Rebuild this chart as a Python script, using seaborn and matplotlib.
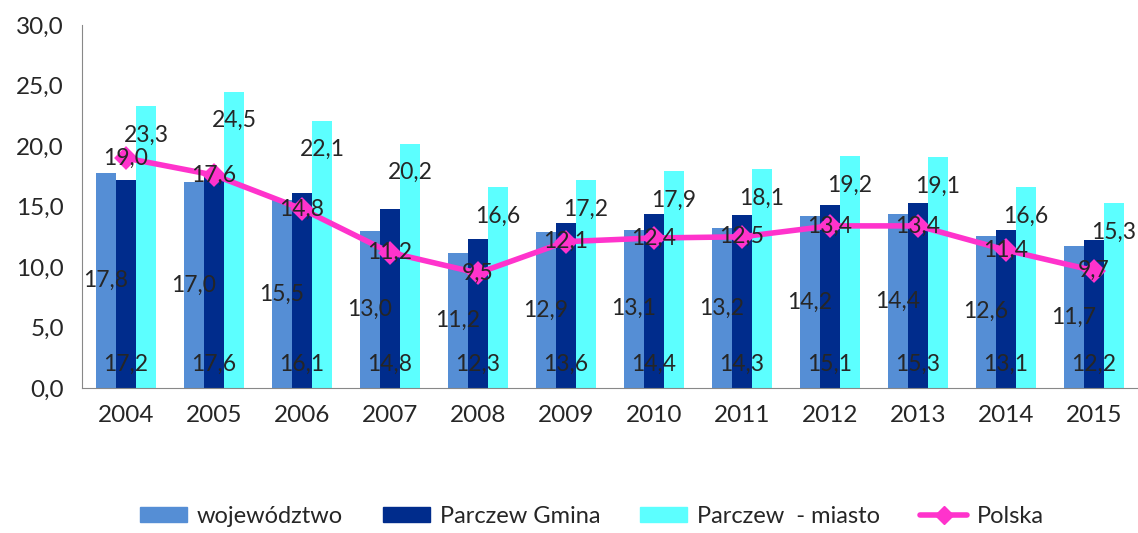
import pandas as pd
import seaborn as sns
import matplotlib.pyplot as plt
import numpy as np
from matplotlib.lines import Line2D
from matplotlib.patches import Patch

# Data
years = ['2004', '2005', '2006', '2007', '2008', '2009', '2010', '2011', '2012', '2013', '2014', '2015']
wojewodztwo = [17.8, 17.0, 15.5, 13.0, 11.2, 12.9, 13.1, 13.2, 14.2, 14.4, 12.6, 11.7]
gmina = [17.2, 17.6, 16.1, 14.8, 12.3, 13.6, 14.4, 14.3, 15.1, 15.3, 13.1, 12.2]
miasto = [23.3, 24.5, 22.1, 20.2, 16.6, 17.2, 17.9, 18.1, 19.2, 19.1, 16.6, 15.3]
polska = [19.0, 17.6, 14.8, 11.2, 9.5, 12.1, 12.4, 12.5, 13.4, 13.4, 11.4, 9.7]

series_names = ['województwo', 'Parczew Gmina', 'Parczew  - miasto']
colors = ['#558ED5', '#002C8C', '#5CFFFF']
line_color = '#FF33CC'

df = pd.DataFrame({
    'rok': years * 3,
    'seria': sum([[n] * len(years) for n in series_names], []),
    'wartosc': wojewodztwo + gmina + miasto,
})

sns.set_style('white')
plt.rcParams['font.family'] = ['Lato', 'DejaVu Sans']

fig = plt.figure(figsize=(11.38, 5.33), dpi=100)
ax = fig.add_axes([0.072, 0.272, 0.928, 0.681])

sns.barplot(data=df, x='rok', y='wartosc', hue='seria', palette=colors,
            width=0.68, gap=0, saturation=1, linewidth=0, ax=ax, legend=False)

sns.pointplot(x=years, y=polska, color=line_color, markers='D', markersize=9,
              linewidth=4, ax=ax)

fs = 16.5
def fmt(v):
    return f'{v:.1f}'.replace('.', ',')

# labels: województwo centered, gmina at inside base, miasto inside end
conts = ax.containers
for bar, v in zip(conts[0], wojewodztwo):
    ax.annotate(fmt(v), (bar.get_x() + bar.get_width() / 2, v / 2),
                ha='center', va='center', fontsize=fs, zorder=10)
for bar, v in zip(conts[1], gmina):
    ax.annotate(fmt(v), (bar.get_x() + bar.get_width() / 2, 0), xytext=(0, 17),
                textcoords='offset points', ha='center', va='center', fontsize=fs, zorder=10)
for bar, v in zip(conts[2], miasto):
    ax.annotate(fmt(v), (bar.get_x() + bar.get_width() / 2, v), xytext=(0, -21),
                textcoords='offset points', ha='center', va='center', fontsize=fs, zorder=10)
for i, v in enumerate(polska):
    ax.annotate(fmt(v), (i, v), ha='center', va='center', fontsize=fs, zorder=10)

ax.set_ylim(0, 30)
ax.set_xlim(-0.5, len(years) - 0.5)
ax.set_yticks(np.arange(0, 31, 5))
ax.set_yticklabels([fmt(t) for t in np.arange(0, 31, 5)], fontsize=17.5)
ax.set_xticks(range(len(years)))
ax.set_xticklabels(years, fontsize=17.5)
ax.set_xticks(np.arange(-0.5, len(years), 1), minor=True)
ax.tick_params(axis='x', which='major', length=0, pad=12)
ax.tick_params(axis='x', which='minor', length=7, color='#888888', width=1)
ax.tick_params(axis='y', length=5, color='#888888', width=1, pad=8)
ax.set_xlabel('')
ax.set_ylabel('')
for s in ['top', 'right']:
    ax.spines[s].set_visible(False)
for s in ['left', 'bottom']:
    ax.spines[s].set_color('#888888')

handles = [Patch(color=c) for c in colors]
handles.append(Line2D([], [], color=line_color, lw=4, marker='D', markersize=9))
fig.legend(handles, series_names + ['Polska'], loc='lower center', ncol=4,
           bbox_to_anchor=(0.52, -0.028), frameon=False, fontsize=17,
           handlelength=2.0, handleheight=0.65, columnspacing=1.7, handletextpad=0.4)

fig.savefig('out.png', dpi=100)
